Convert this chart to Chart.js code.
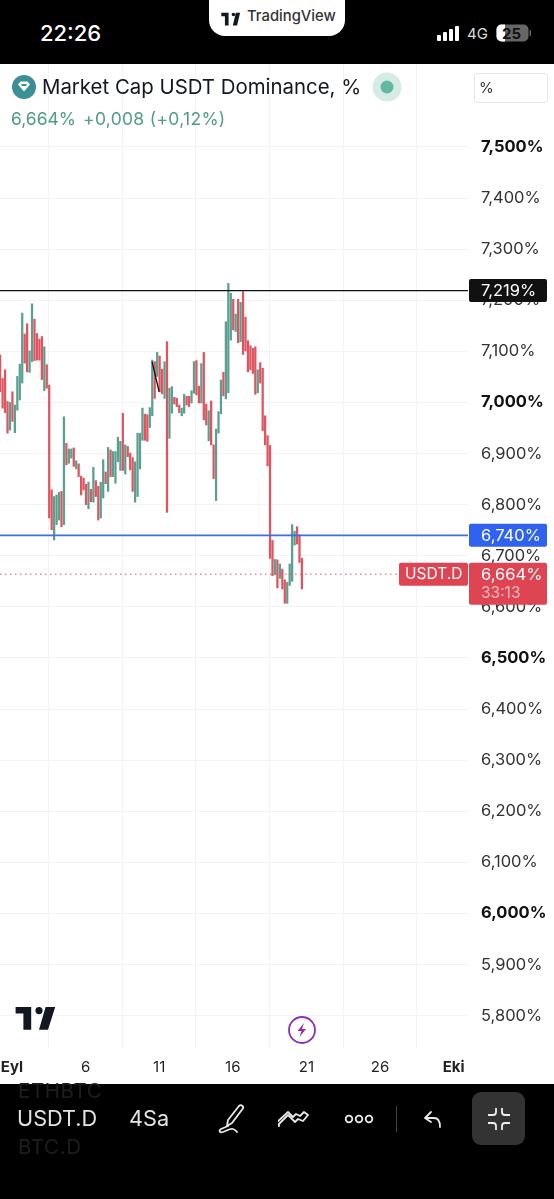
<!DOCTYPE html>
<html>
<head>
<meta charset="utf-8">
<script src="https://cdn.jsdelivr.net/npm/chart.js@4"></script>
<style>
html, body { margin: 0; padding: 0; background: #000; }
#page { position: relative; width: 554px; height: 1199px; overflow: hidden; background: #000; font-family: Inter, Roboto, sans-serif; }
#page div, #page svg { position: absolute; }
#chartBox { left: 0; top: 64px; width: 554px; height: 1020px; background: #fff; }
.txt { white-space: nowrap; line-height: 1; }
</style>
</head>
<body>
<div id="page">
  <div id="chartBox"><canvas id="myChart" width="554" height="1020"></canvas></div>

  <!-- status bar -->
  <div class="txt" style="left:40px;top:22px;font-size:22px;font-weight:500;color:#fff">22:26</div>
  <div style="left:209px;top:0;width:136px;height:36px;background:#fff;border-radius:0 0 16px 16px"></div>
  <svg style="left:220px;top:9px" width="22" height="17" viewBox="0 0 36 28"><path fill="#131722" d="M14 6H2v6h6v15h6V6zm14 21h-7l5-21h7l-5 21zm-6-15a3 3 0 1 1 0-6 3 3 0 0 1 0 6z"/></svg>
  <div class="txt" style="left:247px;top:9px;font-size:14.8px;font-weight:500;color:#333">TradingView</div>
  <svg style="left:437px;top:25px" width="26" height="17"><rect x="0" y="10" width="4" height="6" rx="1" fill="#fff"/><rect x="6" y="7" width="4" height="9" rx="1" fill="#fff"/><rect x="12" y="4" width="4" height="12" rx="1" fill="#fff"/><rect x="18" y="1" width="4" height="15" rx="1" fill="#fff"/></svg>
  <div class="txt" style="left:467px;top:26px;font-size:15px;color:#ddd">4G</div>
  <svg style="left:496px;top:24px" width="36" height="19"><rect x="0.5" y="0.5" width="32" height="17" rx="5" fill="#666"/><path d="M5.5 0.5H9V17.5H5.5a5 5 0 0 1-5-5V5.5a5 5 0 0 1 5-5z" fill="#fff"/><rect x="33.5" y="6" width="1.5" height="6" rx="0.7" fill="#666"/></svg>
  <div class="txt" style="left:502px;top:26px;font-size:15px;font-weight:700;color:#111">25</div>

  <!-- legend -->
  <svg style="left:12px;top:75px" width="24" height="24"><circle cx="12" cy="12" r="12" fill="#3c8f95"/><path d="M6 9.5l2.5-3h7l2.500 3-6 7z" fill="#fff"/><rect x="9.500" y="9" width="5" height="2" fill="#3c8f95"/></svg>
  <div class="txt" style="left:42px;top:77px;font-size:20.4px;color:#131722">Market Cap USDT Dominance, %</div>
  <svg style="left:372px;top:72px" width="30" height="30"><circle cx="15" cy="15" r="14.500" fill="#d5ece6"/><circle cx="15" cy="15" r="6.500" fill="#62b8a3"/></svg>
  <div style="left:474px;top:73px;width:74px;height:30px;background:#fff;border:1px solid #e6e8ee;border-radius:3px;box-sizing:border-box"></div>
  <div class="txt" style="left:479px;top:80px;font-size:15px;color:#333">%</div>
  <div class="txt" style="left:11px;top:110px;font-size:17.5px;color:#4f9c8b">6,664%</div>
  <div class="txt" style="left:83px;top:110px;font-size:17.5px;letter-spacing:0.3px;color:#4f9c8b">+0,008 (+0,12%)</div>

  <!-- watermark and lightning -->
  <svg style="left:14px;top:1007px" width="44" height="24" viewBox="0 0 36 20"><path fill="#131722" d="M14 0H1v5.500h6.500V19H14V0zm14 19h-7.500L26 0h8l-6 19zm-7.500-13a3 3 0 1 1 0-6 3 3 0 0 1 0 6z"/></svg>
  <svg style="left:287px;top:1015px" width="30" height="30"><circle cx="15" cy="15" r="13" fill="#fff" stroke="#8e2fb0" stroke-width="1.800"/><path d="M17 8l-6.500 8h4l-2 6 6.500-8h-4z" fill="#8e2fb0"/></svg>

  <!-- bottom toolbar -->
  <div class="txt" style="left:18px;top:1081px;font-size:20.5px;letter-spacing:0.6px;color:#1e1e1e">ETHBTC</div>
  <div class="txt" style="left:18px;top:1137px;font-size:20.5px;letter-spacing:0.6px;color:#1e1e1e">BTC.D</div>
  <div class="txt" style="left:17px;top:1108px;font-size:21.7px;color:#e2e2e2">USDT.D</div>
  <div class="txt" style="left:129px;top:1108px;font-size:21.7px;color:#e2e2e2">4Sa</div>
  <svg style="left:214px;top:1102px" width="34" height="34" fill="none" stroke="#e8e8e8" stroke-width="1.800" stroke-linejoin="round" stroke-linecap="round"><path d="M13 24l1-6L25 4c1-1 2.500-1 3.500 0s1 2 0 3L18 21z"/><path d="M14 24l-7 3c-3 2-1 4 2 3 4-1 7-4 10-3 2 .5 3 1.500 4 3"/></svg>
  <svg style="left:278px;top:1106px" width="32" height="26" fill="none" stroke="#e8e8e8" stroke-width="1.800" stroke-linejoin="round"><path d="M2 17l9-9 7 7 3 -3 5 2 5-6-4-3-4 4-4-2-3 3-5-5-12 11 3 3z" transform="translate(-1 1)"/></svg>
  <svg style="left:344px;top:1112px" width="30" height="14" fill="none" stroke="#e8e8e8" stroke-width="1.800"><circle cx="5" cy="7" r="3.300"/><circle cx="15" cy="7" r="3.300"/><circle cx="25" cy="7" r="3.300"/></svg>
  <div style="left:396px;top:1106px;width:1px;height:26px;background:#444"></div>
  <svg style="left:422px;top:1109px" width="24" height="22" fill="none" stroke="#e8e8e8" stroke-width="1.800" stroke-linecap="round" stroke-linejoin="round"><path d="M9 3l-6 6 6 4M3 9h9c4 0 6 3 6 9"/></svg>
  <div style="left:472px;top:1092px;width:53px;height:53px;background:#333;border-radius:9px"></div>
  <svg style="left:486px;top:1106px" width="26" height="26" fill="none" stroke="#eee" stroke-width="1.800"><path d="M10 2v4a3 3 0 0 1-3 3H2M16 2v4a3 3 0 0 0 3 3h5M10 24v-4a3 3 0 0 0-3-3H2M16 24v-4a3 3 0 0 1 3-3h5"/></svg>
</div>

<script>
// 4h bars, one value per candle
var candleLows = [
  7.021, 6.989, 6.980, 6.940, 6.946, 6.963, 6.941, 6.985, 7.005, 7.038,
  7.077, 7.060, 7.059, 7.080, 7.082, 7.083, 7.083, 7.045, 7.023, 7.028,
  6.774, 6.751, 6.731, 6.761, 6.770, 6.757, 6.761, 6.878, 6.881, 6.891,
  6.875, 6.870, 6.855, 6.819, 6.829, 6.800, 6.792, 6.806, 6.805, 6.816,
  6.770, 6.774, 6.813, 6.841, 6.826, 6.855, 6.855, 6.842, 6.884, 6.867,
  6.867, 6.860, 6.894, 6.868, 6.826, 6.805, 6.816, 6.870, 6.926, 6.926,
  6.924, 6.951, 6.974, 7.008, 7.051, 7.021, 7.017, 7.008, 6.785, 6.930,
  6.979, 6.997, 6.992, 6.980, 6.974, 6.979, 6.995, 6.992, 6.999, 7.018,
  7.015, 6.999, 6.999, 6.966, 6.956, 6.925, 6.917, 6.851, 6.808, 6.940,
  6.978, 7.013, 7.007, 7.019, 7.122, 7.142, 7.139, 7.117, 7.119, 7.094,
  7.101, 7.060, 7.064, 7.057, 7.016, 7.019, 7.038, 6.945, 6.917, 6.876,
  6.695, 6.661, 6.663, 6.637, 6.656, 6.635, 6.607, 6.607, 6.642, 6.650,
  6.721, 6.723, 6.687, 6.635
];
var candleHighs = [
  7.093, 7.047, 7.064, 7.002, 7.000, 7.021, 6.995, 7.051, 7.075, 7.175,
  7.134, 7.154, 7.101, 7.193, 7.163, 7.135, 7.124, 7.129, 7.109, 7.074,
  7.034, 6.829, 6.816, 6.819, 6.824, 6.826, 6.972, 6.920, 6.909, 6.909,
  6.911, 6.886, 6.880, 6.856, 6.852, 6.840, 6.844, 6.830, 6.873, 6.847,
  6.836, 6.844, 6.888, 6.864, 6.912, 6.907, 6.904, 6.904, 6.932, 6.924,
  6.979, 6.917, 6.914, 6.901, 6.892, 6.884, 6.940, 6.940, 6.989, 6.977,
  6.976, 6.990, 7.083, 7.080, 7.098, 7.091, 7.065, 7.080, 7.119, 7.028,
  7.031, 7.010, 7.008, 6.995, 6.989, 7.016, 7.012, 7.012, 7.023, 7.080,
  7.082, 7.032, 7.076, 7.098, 6.997, 6.984, 7.003, 6.917, 6.948, 6.982,
  7.044, 7.059, 7.158, 7.233, 7.214, 7.202, 7.173, 7.202, 7.196, 7.217,
  7.167, 7.121, 7.111, 7.106, 7.109, 7.064, 7.078, 7.067, 6.974, 6.935,
  6.916, 6.730, 6.693, 6.692, 6.684, 6.674, 6.653, 6.648, 6.684, 6.761,
  6.748, 6.757, 6.741, 6.695
];
var candleUp = [
  0, 0, 0, 0, 1, 0, 1, 1, 1, 1,
  0, 0, 1, 1, 0, 0, 0, 0, 1, 0,
  0, 0, 1, 1, 1, 0, 1, 0, 1, 1,
  0, 1, 0, 0, 0, 0, 1, 0, 1, 0,
  0, 1, 1, 0, 1, 0, 1, 1, 1, 1,
  0, 1, 0, 0, 0, 1, 1, 1, 1, 0,
  0, 1, 1, 0, 1, 0, 0, 1, 0, 1,
  1, 0, 0, 0, 1, 1, 0, 0, 1, 1,
  0, 0, 1, 0, 0, 1, 0, 0, 1, 1,
  1, 0, 1, 1, 1, 0, 1, 0, 1, 0,
  0, 0, 0, 0, 0, 1, 0, 0, 0, 0,
  0, 0, 1, 0, 1, 0, 0, 1, 1, 1,
  1, 0, 0, 0
];
var firstBarDay = 0.2;
var barsPerDay = 6;

var dayTicks = [1, 6, 11, 16, 21, 26, 31];
var dayLabels = ['Eyl', '6', '11', '16', '21', '26', 'Eki'];
var priceTicks = [7.5, 7.4, 7.3, 7.2, 7.1, 7.0, 6.9, 6.8, 6.7, 6.6, 6.5, 6.4, 6.3, 6.2, 6.1, 6.0, 5.9, 5.8];
var boldPrices = [7.5, 7.0, 6.5, 6.0];

var resistanceLevel = 7.219;
var supportLevel = 6.740;
var lastPrice = 6.664;
var countdown = '33:13';
var symbol = 'USDT.D';
var drawnLineDays = [10.52, 11.0];
var drawnLinePrices = [7.080, 7.021];

var dayMin = 0.19, dayMax = 31.98;
var priceMin = 5.7368, priceMax = 7.6624;

var green = '#5a9f90', red = '#de5560';

function commaPrice(v) {
  return v.toFixed(3).replace('.', ',') + '%';
}

function levelLine(price) {
  return [{ x: dayMin, y: price }, { x: dayMax, y: price }];
}

// price badges sit on top of the axis labels
var badges = {
  id: 'badges',
  afterDraw: function (chart) {
    var c = chart.ctx, y = chart.scales.y;
    function badge(x, w, top, h, fill) {
      c.fillStyle = fill;
      c.beginPath();
      c.roundRect(x, top, w, h, 2);
      c.fill();
    }
    function label(text, x, mid, color, size) {
      c.fillStyle = color;
      c.font = (size || 16.5) + 'px Inter, Roboto, sans-serif';
      c.textAlign = 'left';
      c.textBaseline = 'middle';
      c.fillText(text, x, mid);
    }
    var top = y.getPixelForValue(resistanceLevel);
    badge(469, 78, top - 11.5, 23, '#111');
    label(commaPrice(resistanceLevel), 481, top + 0.5, '#fff');

    top = y.getPixelForValue(supportLevel);
    badge(469, 78, top - 11.5, 23, '#2f62ee');
    label(commaPrice(supportLevel), 481, top + 0.5, '#fff');

    top = y.getPixelForValue(lastPrice);
    badge(399, 69, top - 11.5, 23, '#df4453');
    label(symbol, 405, top + 0.5, '#fff', 15.5);
    badge(469, 78, top - 11.5, 42, '#df4453');
    label(commaPrice(lastPrice), 481, top + 0.5, '#fff');
    label(countdown, 481, top + 19.5, '#f6b9bf', 15.5);
  }
};

var ctx = document.getElementById('myChart').getContext('2d');
var chart = new Chart(ctx, {
  data: {
    datasets: [
      {
        type: 'bar',
        label: 'USDT.D',
        data: candleLows.map(function (low, i) {
          return { x: firstBarDay + i / barsPerDay, y: [low, candleHighs[i]] };
        }),
        backgroundColor: candleUp.map(function (u) { return u ? green : red; }),
        barThickness: 1.6,
        order: 2
      },
      {
        type: 'line',
        label: 'drawing',
        data: drawnLineDays.map(function (d, i) { return { x: d, y: drawnLinePrices[i] }; }),
        borderColor: '#111',
        borderWidth: 1.3,
        pointRadius: 0,
        order: 1
      },
      {
        type: 'line',
        label: 'resistance',
        data: levelLine(resistanceLevel),
        borderColor: '#111',
        borderWidth: 1.4,
        pointRadius: 0,
        order: 1
      },
      {
        type: 'line',
        label: 'support',
        data: levelLine(supportLevel),
        borderColor: '#3f6cec',
        borderWidth: 1.6,
        pointRadius: 0,
        order: 1
      },
      {
        type: 'line',
        label: 'last',
        data: levelLine(lastPrice),
        borderColor: '#e0505e',
        borderWidth: 1,
        borderDash: [1.5, 3.5],
        pointRadius: 0,
        order: 1
      }
    ]
  },
  options: {
    responsive: false,
    animation: false,
    layout: { padding: 0 },
    plugins: { legend: { display: false }, tooltip: { enabled: false } },
    scales: {
      x: {
        type: 'linear',
        offset: false,
        min: dayMin,
        max: dayMax,
        afterBuildTicks: function (scale) {
          scale.ticks = dayTicks.map(function (d) { return { value: d }; });
        },
        afterFit: function (scale) {
          scale.height = 36;
          scale.paddingLeft = 0;
          scale.paddingRight = 0;
        },
        grid: { color: '#f1f3f7', drawTicks: false },
        border: { display: false },
        ticks: {
          autoSkip: false,
          maxRotation: 0,
          padding: 10,
          color: '#222',
          font: function (c) {
            var bold = c.tick && (c.tick.value === 1 || c.tick.value === 31);
            return { family: 'Inter, Roboto, sans-serif', size: 15, weight: bold ? '700' : '400' };
          },
          callback: function (v) { return dayLabels[dayTicks.indexOf(v)]; }
        }
      },
      y: {
        position: 'right',
        min: priceMin,
        max: priceMax,
        afterBuildTicks: function (scale) {
          scale.ticks = priceTicks.map(function (p) { return { value: p }; });
        },
        afterFit: function (scale) {
          scale.width = 86;
          scale.paddingTop = 0;
          scale.paddingBottom = 0;
        },
        grid: { color: '#f1f3f7', drawTicks: false },
        border: { display: false },
        ticks: {
          autoSkip: false,
          padding: 13,
          align: 'center',
          crossAlign: 'near',
          color: function (c) { return boldPrices.indexOf(c.tick.value) >= 0 ? '#111' : '#333'; },
          font: function (c) {
            var bold = c.tick && boldPrices.indexOf(c.tick.value) >= 0;
            return { family: 'Inter, Roboto, sans-serif', size: 16.5, weight: bold ? '700' : '400' };
          },
          callback: function (v) { return commaPrice(v); }
        }
      }
    }
  },
  plugins: [badges]
});
</script>
</body>
</html>
